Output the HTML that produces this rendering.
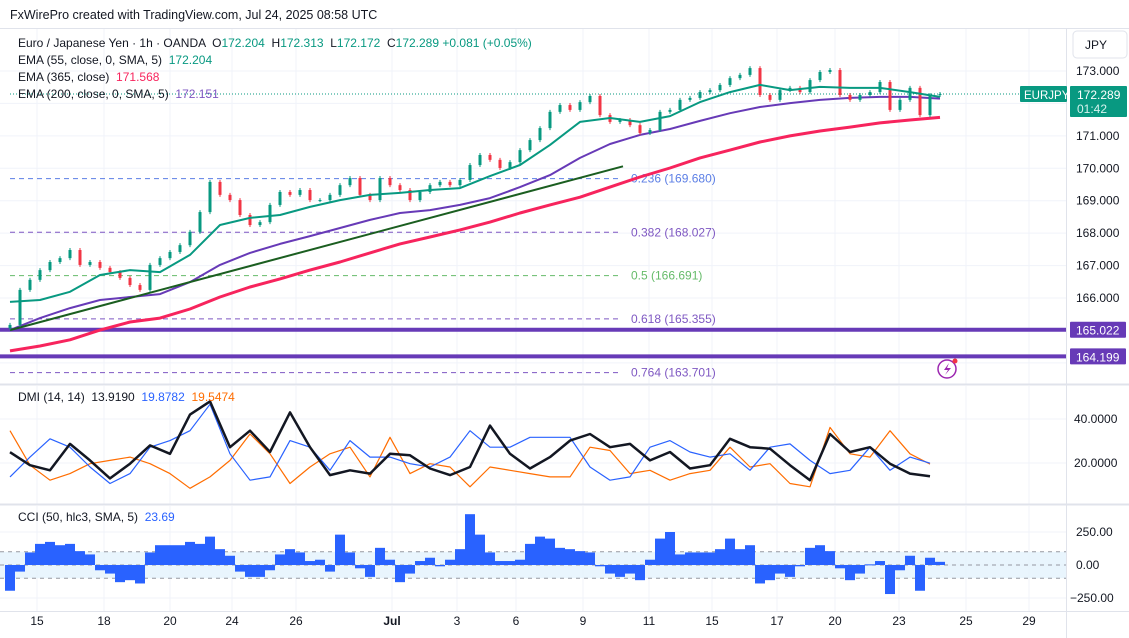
<!DOCTYPE html>
<html><head><meta charset="utf-8">
<style>
html,body{margin:0;padding:0;background:#fff;width:1129px;height:638px;overflow:hidden;}
svg{display:block;font-family:"Liberation Sans",sans-serif;}
text{white-space:pre;}
</style></head>
<body>
<svg id="chart" width="1129" height="638" viewBox="0 0 1129 638" xmlns="http://www.w3.org/2000/svg">
<rect x="0" y="0" width="1129" height="638" fill="#ffffff"/>
<text x="10" y="19" font-size="12.5" fill="#131722">FxWirePro created with TradingView.com, Jul 24, 2025 08:58 UTC</text>
<g id="grid"></g>
<g id="panes">
<line x1="0" y1="28.5" x2="1129" y2="28.5" stroke="#e0e3eb"/>
<line x1="0" y1="384.5" x2="1129" y2="384.5" stroke="#e0e3eb" stroke-width="2"/>
<line x1="0" y1="504.5" x2="1129" y2="504.5" stroke="#e0e3eb" stroke-width="2"/>
<line x1="0" y1="611.5" x2="1129" y2="611.5" stroke="#e0e3eb"/>
<line x1="1066.5" y1="28" x2="1066.5" y2="638" stroke="#e0e3eb"/>
</g>
<g id="main"></g>
<g id="dmi"></g>
<g id="cci"></g>
<g id="axes"></g>
<g id="legend">
<text x="18" y="47" font-size="12" fill="#131722" xml:space="preserve">Euro / Japanese Yen · 1h · OANDA  O<tspan fill="#089981">172.204</tspan>  H<tspan fill="#089981">172.313</tspan>  L<tspan fill="#089981">172.172</tspan>  C<tspan fill="#089981">172.289</tspan> <tspan fill="#089981">+0.081 (+0.05%)</tspan></text>
<text x="18" y="64" font-size="12" fill="#131722" xml:space="preserve">EMA (55, close, 0, SMA, 5)  <tspan fill="#089981">172.204</tspan></text>
<text x="18" y="81" font-size="12" fill="#131722" xml:space="preserve">EMA (365, close)  <tspan fill="#f7245d">171.568</tspan></text>
<text x="18" y="98" font-size="12" fill="#131722" xml:space="preserve">EMA (200, close, 0, SMA, 5)  <tspan fill="#7e57c2">172.151</tspan></text>
<text x="18" y="401" font-size="12" fill="#131722" xml:space="preserve">DMI (14, 14)  13.9190  <tspan fill="#2962ff">19.8782</tspan>  <tspan fill="#ff6d00">19.5474</tspan></text>
<text x="18" y="521" font-size="12" fill="#131722" xml:space="preserve">CCI (50, hlc3, SMA, 5)  <tspan fill="#2962ff">23.69</tspan></text>
</g>
</svg>
<script>
// ---- data ----
const closes = [165.17,166.25,166.56,166.86,167.11,167.23,167.48,167.02,167.11,166.93,166.80,166.62,166.40,166.25,167.02,167.23,167.42,167.63,168.04,168.65,169.58,169.18,169.02,168.56,168.25,168.34,168.87,169.27,169.18,169.33,169.02,169.02,169.18,169.48,169.70,169.18,169.02,169.70,169.48,169.33,169.02,169.27,169.48,169.58,169.48,169.64,170.10,170.41,170.26,170.01,170.19,170.56,170.87,171.24,171.74,171.95,171.80,172.04,172.23,171.64,171.43,171.49,171.33,171.09,171.18,171.74,171.80,172.11,172.17,172.35,172.41,172.57,172.78,172.88,173.09,172.26,172.11,172.41,172.48,172.35,172.72,172.97,173.03,172.26,172.11,172.26,172.35,172.66,171.80,172.11,172.48,171.64,172.26,172.289];
const ema55 = [165.88,165.94,166.19,166.71,166.86,166.80,167.33,168.25,168.47,168.56,168.81,169.02,169.18,169.24,169.33,169.39,169.76,170.10,170.72,171.43,171.55,171.43,171.61,172.04,172.35,172.57,172.41,172.51,172.48,172.48,172.35,172.20];
const ema200 = [165.01,165.38,165.69,165.94,166.03,166.12,166.49,167.02,167.39,167.67,167.91,168.16,168.41,168.62,168.71,168.87,169.08,169.42,169.79,170.32,170.75,171.03,171.21,171.46,171.70,171.89,172.01,172.11,172.17,172.20,172.20,172.15];
const ema365 = [164.37,164.52,164.71,165.01,165.26,165.38,165.66,166.03,166.34,166.59,166.86,167.11,167.39,167.67,167.88,168.10,168.34,168.62,168.87,169.11,169.42,169.73,170.01,170.32,170.56,170.81,171.00,171.15,171.27,171.40,171.49,171.57];
const fibLevels = [0.236,0.382,0.5,0.618,0.764];
const fibPrices = [169.680,168.027,166.691,165.355,163.701];
const hLinePrices = [165.022,164.199];
const trendPrices = [165.01,170.06];
const priceTicks = [173,171,170,169,168,167,166];
const adx = [24.9,19,16.7,28.7,21.2,13,19.7,28,24.2,42,48,27.2,34.7,25,43,27.2,14.5,16.7,15.2,24.2,23.5,17.5,14.5,18.2,37,24.2,17.5,22.7,30.2,33.2,27.2,28.7,21.2,25,17.5,19,31,27.2,26.5,19,12.2,33.2,25,27.2,19.7,15.2,14];
const plusDI = [13.7,22.7,31,27.2,18.2,10.7,15.2,27.2,30.2,34.7,46.7,24.2,12.2,13.7,30.2,27.2,16.7,30.2,22.7,22.7,19.7,18.2,22.7,34.7,27.2,27.2,31.7,31.7,31.7,18.2,12.2,13.7,27.2,30.2,25,22.7,24.2,16.7,27.2,28.7,21.2,15.2,16.7,27.2,16.7,22.7,19.9];
const minusDI = [34.7,19,12.2,15.2,19.7,21.2,22.7,19.7,15.2,8.5,13.7,21.2,33.2,24.2,10.7,18.2,24.2,27.2,13.7,31.7,15.2,19.7,18.2,9.2,18.2,16.7,15.2,13.7,13.7,27.2,25.7,15.2,16.7,12.2,15.2,16.7,27.2,18.2,19.7,10.7,9.2,36.2,24.2,22.7,34.7,24.2,19.5];
const dmiTicks = [40,20];
const cciVals = [-195,-50,95,160,175,150,160,105,80,-40,-65,-130,-115,-140,95,150,150,150,175,160,215,120,70,-50,-90,-90,-40,80,120,95,30,40,-50,230,95,-25,-90,130,40,-130,-65,30,55,-10,40,120,385,230,95,30,30,40,160,215,200,130,120,105,95,-10,-65,-90,-65,-115,40,200,250,80,95,95,95,120,200,120,150,-140,-115,-65,-90,-10,130,150,105,-25,-115,-65,5,30,-220,-40,70,-195,55,24];
const cciTicks = [250,0,-250];
const cciBands = [100,-100];
const timeLabels = ["15","18","20","24","26","Jul","3","6","9","11","15","17","20","23","25","29"];
const timeIdx = [2.7,9.4,16,22.2,28.6,38.2,44.7,50.6,57.3,63.9,70.2,76.7,82.5,88.9,95.6,101.9];

// ---- scales ----
const NS = "http://www.w3.org/2000/svg";
const X0 = 10, STEP = 10, PLOTR = 1066;
const xi = i => X0 + i * STEP;
const yP = p => 71 + (173 - p) * 32.43;
const yD = v => 463 - (v - 20) * 2.2;
const yC = v => 565 - v * 0.132;
function mk(tag, attrs, parent){ const e=document.createElementNS(NS,tag); for(const k in attrs) e.setAttribute(k,attrs[k]); parent.appendChild(e); return e; }
const grid=document.getElementById('grid'), main=document.getElementById('main'), dmi=document.getElementById('dmi'), cci=document.getElementById('cci'), axes=document.getElementById('axes');

// grid
timeIdx.forEach((t)=>{ const x=xi(t); [[29,384],[386,504],[506,611]].forEach(r=>{ const l=mk('line',{x1:x,y1:r[0],x2:x,y2:r[1],stroke:'#f0f3fa'},grid);

 }); });
priceTicks.concat([172,165,164]).forEach(p=>{ const l=mk('line',{x1:0,y1:yP(p),x2:PLOTR,y2:yP(p),stroke:'#f0f3fa'},grid);

 });
dmiTicks.forEach(v=>{ const l=mk('line',{x1:0,y1:yD(v),x2:PLOTR,y2:yD(v),stroke:'#f0f3fa'},grid);

 });
cciTicks.forEach(v=>{ const l=mk('line',{x1:0,y1:yC(v),x2:PLOTR,y2:yC(v),stroke:'#f0f3fa'},grid);

 });

// fib levels
const fibColors=['#5b7ee5','#7e57c2','#66bb6a','#7e57c2','#7e57c2'];
fibLevels.forEach((lv,i)=>{ const y=yP(fibPrices[i]);
 const l=mk('line',{x1:10,y1:y,x2:622,y2:y,stroke:fibColors[i],'stroke-dasharray':'5,4'},main);
 
 
 const t=mk('text',{x:631,y:y+4,'font-size':12,fill:fibColors[i]},main); t.textContent=lv+' ('+fibPrices[i].toFixed(3)+')';
 
  });

// horizontal support lines
hLinePrices.forEach(p=>{ const l=mk('line',{x1:0,y1:yP(p),x2:PLOTR,y2:yP(p),stroke:'#673ab7','stroke-width':4},main);

 });

// current price dotted line
const cp=closes[closes.length-1];
const dl=mk('line',{x1:10,y1:yP(cp),x2:1020,y2:yP(cp),stroke:'#089981','stroke-dasharray':'1,2'},main);



// EMA lines
function line(arr, step, yf, color, w, parent, name, x0){ const pts=arr.map((v,i)=>((x0||X0)+i*step)+','+yf(v).toFixed(1)).join(' ');
 const e=mk('polyline',{points:pts,fill:'none',stroke:color,'stroke-width':w,'stroke-linejoin':'round'},parent);
 
  return e; }
line(ema365,30,yP,'#f7245d',3,main,'ema365-line');
line(ema200,30,yP,'#673ab7',2,main,'ema200-line');

// trend line
const tl=mk('line',{x1:10,y1:yP(trendPrices[0]),x2:623,y2:yP(trendPrices[1]),stroke:'#1b5e20','stroke-width':2},main);



// candles
closes.forEach((c,i)=>{ const o=i?closes[i-1]:c-0.1; const up=c>=o; const col=up?'#089981':'#f23645';
 const x=xi(i); const yt=Math.min(yP(o),yP(c)), yb=Math.max(yP(o),yP(c));
 const w=mk('line',{x1:x,y1:yt-2,x2:x,y2:yb+2,stroke:col,'stroke-width':1},main);
 
 
 const b=mk('rect',{x:x-1.5,y:yt,width:3,height:Math.max(1,yb-yt),fill:col},main);
 
  });
line(ema55,30,yP,'#089981',2,main,'ema55-line');

// DMI
line(minusDI,20,yD,'#ff6d00',1.2,dmi,'dmi-minus-line');
line(plusDI,20,yD,'#2962ff',1.2,dmi,'dmi-plus-line');
line(adx,20,yD,'#131722',2.5,dmi,'adx-line');

// CCI
const band=mk('rect',{x:0,y:yC(cciBands[0]),width:PLOTR,height:yC(cciBands[1])-yC(cciBands[0]),fill:'#e3f2fd',opacity:0.8},cci);


cciBands.concat([0]).forEach(v=>{ const l=mk('line',{x1:0,y1:yC(v),x2:PLOTR,y2:yC(v),stroke:'#9598a1','stroke-dasharray':'4,4'},cci);

 });
cciVals.forEach((v,i)=>{ const y0=yC(0), y1=yC(v);
 const r=mk('rect',{x:xi(i)-5,y:Math.min(y0,y1),width:10,height:Math.max(1,Math.abs(y1-y0)),fill:'#2962ff'},cci);
 
  });

// axes labels
priceTicks.forEach(p=>{ const t=mk('text',{x:1076,y:yP(p)+4,'font-size':12,fill:'#131722'},axes); t.textContent=p.toFixed(3);
 
  });
dmiTicks.forEach(v=>{ const t=mk('text',{x:1074,y:yD(v)+4,'font-size':12,fill:'#131722'},axes); t.textContent=v.toFixed(4);
 
  });
cciTicks.forEach(v=>{ const t=mk('text',{x:v<0?1070:1076,y:yC(v)+4,'font-size':12,fill:'#131722'},axes); t.textContent=(v<0?'−'+(-v).toFixed(2):v.toFixed(2));
 
  });
timeLabels.forEach((s,i)=>{ const t=mk('text',{x:xi(timeIdx[i]),y:625,'font-size':12,fill:'#131722','text-anchor':'middle','font-weight':s==='Jul'?'bold':'normal'},axes); t.textContent=s;
 
  });

// price boxes
function box(x,y,w,h,fill,txt,name,tx,fs){ const g=mk('g',{},axes);
 
 
 mk('rect',{x:x,y:y,width:w,height:h,fill:fill,rx:1},g);
 const t=mk('text',{x:tx||x+4,y:y+13,'font-size':fs||12,fill:'#fff'},g); t.textContent=txt; return g; }
hLinePrices.forEach(p=>{ box(1070,yP(p)-8,56,16,'#673ab7',p.toFixed(3),'support-price-box',1076); });
box(1020,86,47,16,'#089981','EURJPY','symbol-tag',1024,11.5);
const pb=box(1070,86,57,31,'#089981',cp.toFixed(3),'last-price-box',1077);
const tm=mk('text',{x:1077,y:113,'font-size':12,fill:'#d7f3ee'},pb); tm.textContent='01:42';

const S=document.getElementById('chart');
const jb=document.createElementNS(NS,'g');


jb.innerHTML='<rect x="1073" y="31" width="54" height="27" rx="4" fill="#fff" stroke="#e0e3eb"/><text x="1085" y="49" font-size="12" fill="#131722">JPY</text>';
S.appendChild(jb);
const ic=document.createElementNS(NS,'g');


ic.innerHTML='<circle cx="947" cy="369" r="9" fill="#fff" stroke="#9c27b0" stroke-width="1.5"/><path d="M949 363 L944 370 L948 370 L945 375 L951 368 L947 368 Z" fill="#9c27b0"/><circle cx="955" cy="361" r="2.5" fill="#f23645"/>';
S.appendChild(ic);
</script>
</body></html>
